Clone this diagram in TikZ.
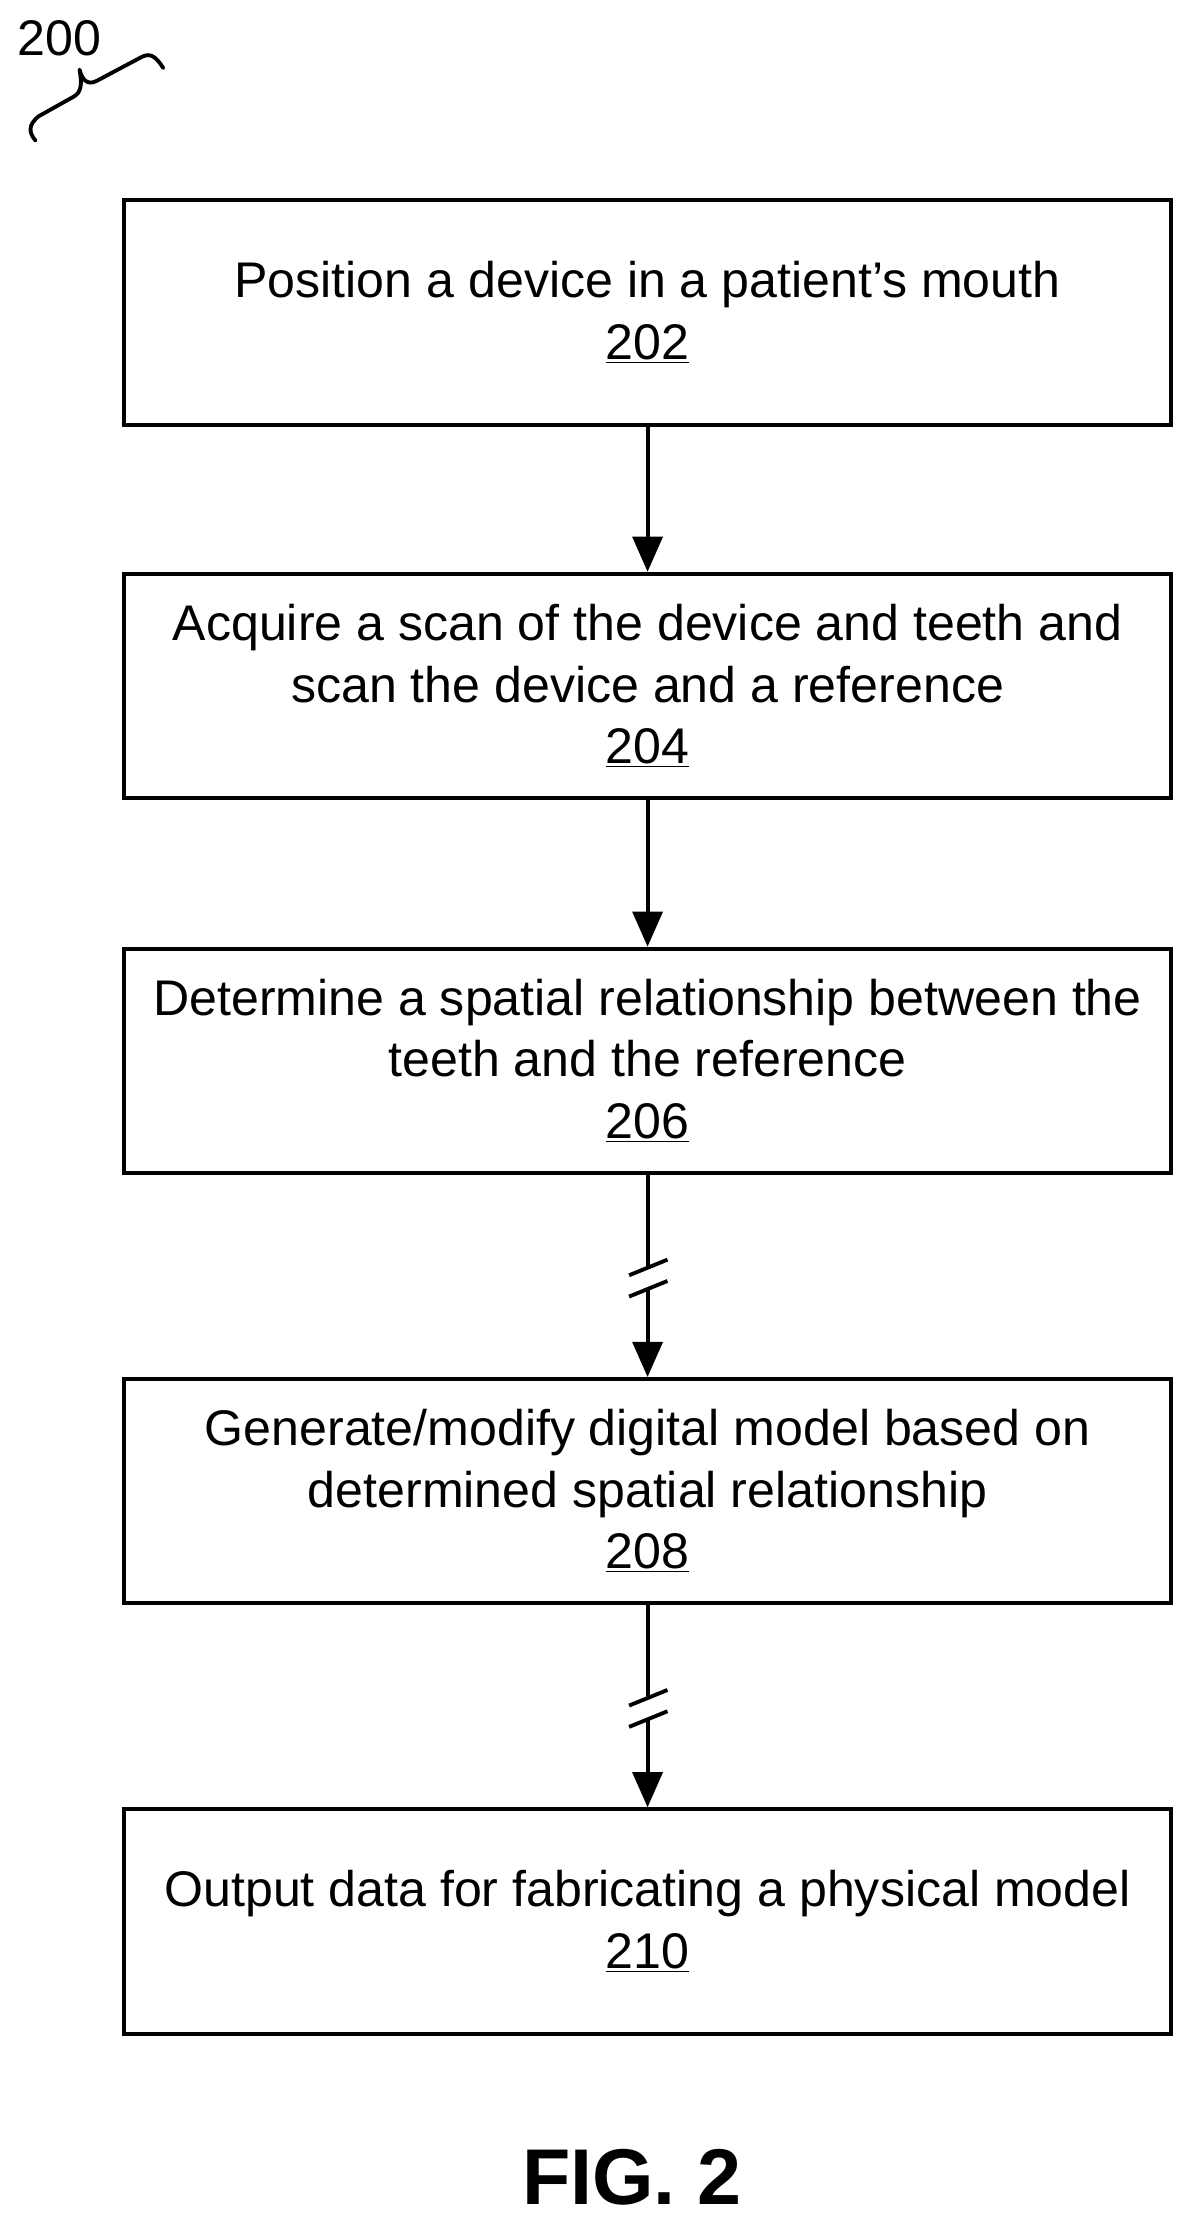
\documentclass[tikz,border=0pt]{standalone}
\usepackage{fontspec}
\setmainfont{Liberation Sans}
\usetikzlibrary{arrows.meta,positioning}

\begin{document}
\begin{tikzpicture}[x=0.0284cm,y=-0.0284cm,
   line width=2.2pt,
   StepBox/.style={draw,minimum width=737*0.0284cm,minimum height=158*0.0284cm,
      align=center,font=\fontsize{28.5}{35}\selectfont,inner sep=0pt},
   StepArrow/.style={-{Triangle[width=17pt,length=20pt]}}]
   \useasboundingbox (0,0) rectangle (843,1571);
   \node[font=\fontsize{28.5}{30}\selectfont] (label) at (42,27) {200};
   \draw[line cap=round] (25,99) .. controls (20,93) and (20,88) .. (27,82)
      -- (52,68) .. controls (57,65) and (58,60) .. (56,49)
      (56,49) .. controls (58,57) and (62,60) .. (68,57)
      -- (100,40) .. controls (106,37) and (110,40) .. (115,48);
   \node[StepBox] (s202) at (456,220) {Position a device in a patient’s mouth\\\underline{202}};
   \node[StepBox] (s204) at (456,483) {Acquire a scan of the device and teeth and\\scan the device and a reference\\\underline{204}};
   \node[StepBox] (s206) at (456,747) {Determine a spatial relationship between the\\teeth and the reference\\\underline{206}};
   \node[StepBox] (s208) at (456,1050) {Generate/modify digital model based on\\determined spatial relationship\\\underline{208}};
   \node[StepBox] (s210) at (456,1353) {Output data for fabricating a physical model\\\underline{210}};
   \node[font=\bfseries\fontsize{45}{50}\selectfont] (fig) at (445,1533) {FIG. 2};
   \draw[StepArrow] (s202) -- (s204);
   \draw[StepArrow] (s204) -- (s206);
   \draw[StepArrow] (s206) -- (s208);
   \draw[StepArrow] (s208) -- (s210);
   % break marks
   \foreach \y in {900,1203} {
      \fill[white] (440,\y-7) rectangle (472,\y+7);
      \draw (443,\y-2) -- (470,\y-13);
      \draw (443,\y+13) -- (470,\y+2);
   }
\end{tikzpicture}
\end{document}
